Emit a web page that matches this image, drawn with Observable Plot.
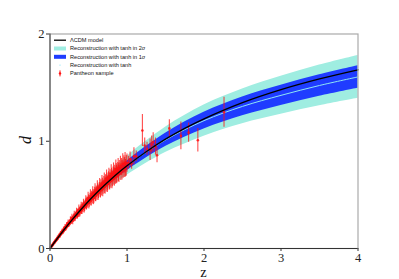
<!DOCTYPE html>
<html>
<head>
<meta charset="utf-8">
<script src="https://cdn.jsdelivr.net/npm/d3@7"></script>
<script src="https://cdn.jsdelivr.net/npm/@observablehq/plot@0.6"></script>
<style>
  html, body { margin: 0; padding: 0; background: #fff; }
  #chart { width: 399px; height: 279px; position: relative; }
</style>
</head>
<body>
<div id="chart"></div>
<script>
// ΛCDM model curve
const lcdmZ = [0, 0.1, 0.2, 0.3, 0.4, 0.5, 0.6, 0.7, 0.8, 0.9, 1.0, 1.25, 1.5, 1.75, 2.0, 2.5, 3.0, 3.5, 4.0];
const lcdmD = [0, 0.098, 0.191, 0.279, 0.362, 0.441, 0.515, 0.585, 0.651, 0.713, 0.771, 0.902, 1.019, 1.120, 1.209, 1.360, 1.481, 1.581, 1.666];

// Reconstruction with tanh: mean and 1σ / 2σ half widths
const recZ     = [0, 0.25, 0.5, 0.75, 1.0, 1.5, 2.0, 2.5, 3.0, 3.5, 4.0];
const recMean  = [0, 0.233, 0.441, 0.619, 0.770, 1.012, 1.192, 1.325, 1.428, 1.520, 1.600];
const recSig1  = [0, 0.010, 0.020, 0.033, 0.045, 0.062, 0.078, 0.088, 0.095, 0.100, 0.105];
const recSig2  = [0, 0.020, 0.040, 0.065, 0.088, 0.118, 0.145, 0.162, 0.177, 0.190, 0.200];

// Pantheon sample (z, d, error) — first group
const snZ = [0.010,0.015,0.020,0.025,0.030,0.035,0.040,0.050,0.060,0.070,0.080,0.090,0.100,0.110,0.120,0.130,0.140,0.150,0.160,0.170,
             0.180,0.190,0.200,0.210,0.220,0.230,0.240,0.250,0.260,0.270,0.280,0.290,0.300,0.310,0.320,0.330,0.340,0.350,0.360,0.370,
             0.380,0.390,0.400,0.410,0.420,0.430,0.440,0.450,0.460,0.470,0.480,0.490,0.500,0.510,0.520,0.530,0.540,0.550,0.560,0.570,
             0.580,0.590,0.600,0.610,0.620,0.630,0.640,0.650,0.660,0.670,0.680,0.690,0.700,0.710,0.720,0.730,0.740,0.750,0.760,0.770,
             0.780,0.790,0.800,0.810,0.820,0.830,0.840,0.850,0.860,0.870,0.880,0.890,0.900,0.920,0.930,0.950,0.960,0.980,1.000,
             1.020,1.040,1.060,1.090,1.120,1.200,1.230,1.260,1.300,1.320,1.340,1.370,1.390,1.550,1.700,1.800,1.920,2.260];
const snD = [0.010,0.016,0.019,0.026,0.029,0.036,0.038,0.051,0.057,0.071,0.076,0.091,0.094,0.110,0.113,0.130,0.132,0.150,0.148,0.165,
             0.170,0.186,0.183,0.205,0.203,0.225,0.218,0.240,0.236,0.262,0.252,0.275,0.270,0.295,0.280,0.305,0.318,0.302,0.335,0.322,
             0.352,0.338,0.370,0.355,0.388,0.372,0.405,0.385,0.420,0.400,0.438,0.420,0.455,0.430,0.470,0.445,0.485,0.465,0.500,0.472,
             0.520,0.490,0.530,0.505,0.548,0.520,0.560,0.535,0.582,0.548,0.595,0.565,0.610,0.575,0.625,0.590,0.640,0.603,0.650,0.618,
             0.668,0.630,0.680,0.645,0.690,0.660,0.705,0.672,0.720,0.688,0.728,0.700,0.745,0.712,0.760,0.735,0.785,0.748,0.795,
             0.800,0.830,0.790,0.860,0.860,1.100,0.960,0.930,0.920,0.970,0.990,0.950,0.870,1.120,1.050,1.080,1.010,1.270];
const snErr = [0.005,0.006,0.006,0.007,0.007,0.008,0.008,0.009,0.010,0.010,0.011,0.012,0.012,0.013,0.013,0.014,0.015,0.016,0.016,0.017,
               0.018,0.019,0.020,0.021,0.022,0.022,0.023,0.024,0.025,0.026,0.026,0.027,0.028,0.029,0.030,0.030,0.031,0.032,0.033,0.034,
               0.034,0.035,0.036,0.037,0.038,0.038,0.039,0.040,0.041,0.042,0.043,0.044,0.045,0.045,0.046,0.047,0.048,0.049,0.050,0.050,
               0.051,0.052,0.053,0.054,0.055,0.055,0.056,0.057,0.058,0.058,0.059,0.060,0.061,0.062,0.062,0.063,0.064,0.065,0.065,0.066,
               0.067,0.068,0.068,0.069,0.070,0.071,0.071,0.072,0.073,0.074,0.075,0.075,0.076,0.078,0.079,0.080,0.080,0.082,0.085,
               0.060,0.070,0.050,0.080,0.050,0.150,0.070,0.060,0.100,0.080,0.090,0.080,0.070,0.080,0.130,0.090,0.110,0.140];

// Pantheon sample — second group
const snZ2 = [0.045,0.055,0.065,0.075,0.085,0.095,0.105,0.115,0.125,0.135,0.145,0.155,0.165,0.175,0.185,0.195,0.205,0.215,0.235,0.245,
              0.265,0.285,0.295,0.315,0.325,0.345,0.355,0.375,0.385,0.405,0.415,0.435,0.445,0.465,0.475,0.495,0.505,0.525,0.535,0.555,
              0.565,0.585,0.595,0.615,0.625,0.645,0.655,0.675,0.685,0.705,0.715,0.735,0.745,0.765,0.775,0.795,0.805,0.825,0.835,0.855,
              0.865,0.885,0.895,0.915,0.935,0.945,0.965,0.975,0.990];
const snD2 = [0.046,0.058,0.060,0.078,0.079,0.098,0.097,0.118,0.114,0.136,0.138,0.158,0.152,0.176,0.172,0.198,0.188,0.214,0.236,0.226,
              0.262,0.284,0.258,0.310,0.290,0.335,0.318,0.362,0.335,0.385,0.365,0.410,0.380,0.440,0.415,0.470,0.425,0.490,0.455,0.515,
              0.470,0.540,0.500,0.565,0.515,0.585,0.540,0.610,0.555,0.630,0.580,0.655,0.600,0.670,0.625,0.700,0.640,0.715,0.665,0.740,
              0.690,0.750,0.705,0.770,0.730,0.790,0.755,0.800,0.770];
const snErr2 = [0.010,0.012,0.013,0.014,0.015,0.016,0.017,0.018,0.019,0.020,0.021,0.022,0.023,0.024,0.025,0.026,0.027,0.028,0.030,0.031,
                0.033,0.035,0.036,0.037,0.038,0.040,0.041,0.043,0.044,0.046,0.047,0.049,0.050,0.052,0.053,0.055,0.056,0.058,0.059,0.060,
                0.061,0.063,0.064,0.066,0.067,0.068,0.069,0.071,0.072,0.073,0.074,0.076,0.077,0.078,0.079,0.081,0.082,0.083,0.084,0.086,
                0.087,0.088,0.089,0.090,0.092,0.093,0.094,0.095,0.096];

// Tick values and legend labels
const xTicks = [0, 1, 2, 3, 4];
const yTicks = [0, 1, 2];
const legendLabels = ["\u039BCDM model", "Reconstruction with tanh in 2", "Reconstruction with tanh in 1", "Reconstruction with tanh", "Pantheon sample"];

const lcdm = lcdmZ.map((z, i) => ({z, d: lcdmD[i]}));
const rec = recZ.map((z, i) => ({z, m: recMean[i], lo1: recMean[i] - recSig1[i], hi1: recMean[i] + recSig1[i], lo2: recMean[i] - recSig2[i], hi2: recMean[i] + recSig2[i]}));
const sn = snZ.map((z, i) => ({z, d: snD[i], lo: snD[i] - snErr[i], hi: snD[i] + snErr[i]}))
  .concat(snZ2.map((z, i) => ({z, d: snD2[i], lo: snD2[i] - snErr2[i], hi: snD2[i] + snErr2[i]})));

const cyan = "#9fede1", blue = "#1f3cff", red = "#ff1010";

const plot = Plot.plot({
  width: 399, height: 279,
  marginLeft: 49.5, marginRight: 41.5, marginTop: 33.5, marginBottom: 31,
  x: {domain: [0, 4]},
  y: {domain: [0, 2]},
  style: {fontFamily: "'Liberation Serif', 'DejaVu Serif', serif", fontSize: "12.5px", background: "#fff", color: "#222"},
  marks: [
    Plot.areaY(rec, {x: "z", y1: "lo2", y2: "hi2", fill: cyan, curve: "catmull-rom"}),
    Plot.areaY(rec, {x: "z", y1: "lo1", y2: "hi1", fill: blue, curve: "catmull-rom"}),
    Plot.line(rec, {x: "z", y: "m", stroke: "#8fe6f5", strokeWidth: 1, curve: "catmull-rom"}),
    Plot.ruleX(sn, {x: "z", y1: "lo", y2: "hi", stroke: red, strokeOpacity: 0.75, strokeWidth: 1.1}),
    Plot.dot(sn, {x: "z", y: "d", r: 1.3, fill: red, fillOpacity: 0.85, stroke: "none"}),
    Plot.line(lcdm, {x: "z", y: "d", stroke: "#000", strokeWidth: 1.4, curve: "catmull-rom"}),
    Plot.frame({stroke: "#aaa", strokeWidth: 1.2}),
    Plot.ruleX([0], {stroke: "#444", strokeWidth: 1}),
    Plot.ruleY([0], {stroke: "#333", strokeWidth: 1}),
    Plot.axisX({ticks: xTicks, tickFormat: d3.format("d"), tickSize: 3, tickPadding: 2, label: null, stroke: "#333"}),
    Plot.axisY({ticks: yTicks, tickFormat: d3.format("d"), tickSize: 3.5, tickPadding: 2, label: null, stroke: "#333"})
  ]
});

document.getElementById("chart").appendChild(plot);

// Axis titles and legend overlay (layout only)
const svg = d3.select(plot);
svg.append("text").attr("x", 203.5).attr("y", 277).attr("text-anchor", "middle")
  .attr("font-family", "'Liberation Serif', serif").attr("font-size", 14.5).attr("fill", "#111").text("z");
svg.append("text").attr("transform", "translate(31,140) rotate(-90)").attr("text-anchor", "middle")
  .attr("font-family", "'Liberation Serif', serif").attr("font-style", "italic").attr("font-size", 16).attr("fill", "#111").text("d");

const lg = svg.append("g").attr("font-family", "'Liberation Sans', Arial, sans-serif").attr("font-size", 5.6).attr("fill", "#111").attr("text-anchor", "start");
const rows = [40.2, 48.5, 56.8, 65.1, 73.4];
const hx0 = 54, hx1 = 66, tx = 70;
lg.append("line").attr("x1", hx0).attr("x2", hx1).attr("y1", rows[0]).attr("y2", rows[0]).attr("stroke", "#000").attr("stroke-width", 1.3);
lg.append("rect").attr("x", hx0).attr("y", rows[1] - 2).attr("width", hx1 - hx0).attr("height", 4).attr("fill", cyan);
lg.append("rect").attr("x", hx0).attr("y", rows[2] - 2).attr("width", hx1 - hx0).attr("height", 4).attr("fill", blue);
lg.append("circle").attr("cx", (hx0 + hx1) / 2).attr("cy", rows[3]).attr("r", 0.7).attr("fill", "#8fe6f5");
lg.append("line").attr("x1", (hx0 + hx1) / 2).attr("x2", (hx0 + hx1) / 2).attr("y1", rows[4] - 3).attr("y2", rows[4] + 3).attr("stroke", red).attr("stroke-width", 1);
lg.append("circle").attr("cx", (hx0 + hx1) / 2).attr("cy", rows[4]).attr("r", 1.2).attr("fill", red);
legendLabels.forEach((t, i) => {
  const txt = lg.append("text").attr("x", tx).attr("y", rows[i]).attr("dy", "0.35em").attr("text-anchor", "start").text(t);
  if (i === 1 || i === 2) {
    txt.append("tspan").attr("font-style", "italic").text("\u03C3");
  }
});
</script>
</body>
</html>
